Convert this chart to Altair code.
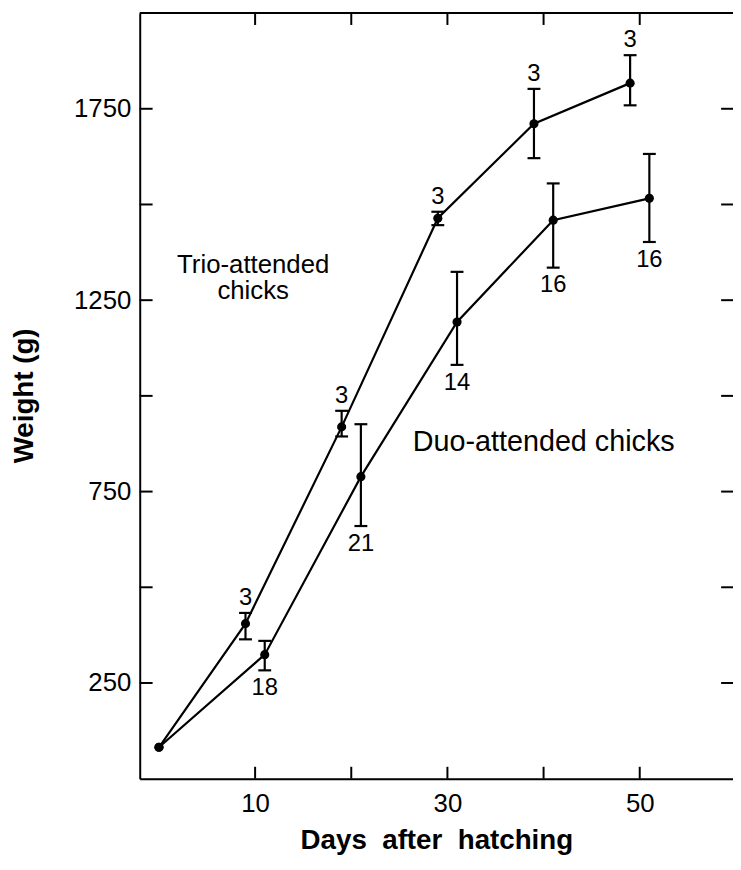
import altair as alt
import pandas as pd

# ---- data ----
trio_days = [0, 9, 19, 29, 39, 49]
trio_weight = [82, 405, 919, 1464, 1711, 1817]
trio_hi = [None, 433, 961, 1481, 1802, 1890]
trio_lo = [None, 364, 894, 1446, 1621, 1759]
trio_n = ["", "3", "3", "3", "3", "3"]

duo_days = [0, 11, 21, 31, 41, 51]
duo_weight = [82, 324, 789, 1193, 1459, 1516]
duo_hi = [None, 360, 926, 1324, 1555, 1632]
duo_lo = [None, 283, 660, 1081, 1335, 1402]
duo_n = ["", "18", "21", "14", "16", "16"]

x_ticks = [10, 20, 30, 40, 50]
x_labels = [10, 30, 50]
y_ticks = [250, 500, 750, 1000, 1250, 1500, 1750]
y_labels = [250, 750, 1250, 1750]

trio_label_text = ["Trio-attended\nchicks"]
trio_label_day = [9.8]
trio_label_weight = [1342]
duo_label_text = ["Duo-attended chicks"]
duo_label_day = [26.4]
duo_label_weight = [880]

# ---- tables ----
rows = []
for s, d, w, hi, lo, n in [("Trio", trio_days, trio_weight, trio_hi, trio_lo, trio_n),
                           ("Duo", duo_days, duo_weight, duo_hi, duo_lo, duo_n)]:
    for i in range(len(d)):
        rows.append({"series": s, "day": d[i], "weight": w[i], "hi": hi[i], "lo": lo[i], "n": n[i]})
df = pd.DataFrame(rows)
df_err = df.dropna(subset=["hi"])
df_trio_err = df_err[df_err.series == "Trio"]
df_duo_err = df_err[df_err.series == "Duo"]
df_xt = pd.DataFrame({"day": x_ticks})
df_yt = pd.DataFrame({"weight": y_ticks})
df_tl = pd.DataFrame({"t": trio_label_text, "day": trio_label_day, "weight": trio_label_weight})
df_dl = pd.DataFrame({"t": duo_label_text, "day": duo_label_day, "weight": duo_label_weight})

W, H = 599, 773
FONT = "Liberation Sans"
xs = alt.Scale(domain=[-2, 59.7], nice=False, zero=False)
ys = alt.Scale(domain=[0, 2000], nice=False, zero=False)

XT = "Days\u00a0\u00a0after\u00a0\u00a0hatching"
YT = "Weight (g)"
x_axis = alt.Axis(values=x_labels, ticks=False, tickSize=0, grid=False, domain=True, format="d",
                  domainColor="black", domainWidth=2, labelFontSize=26, labelColor="black",
                  labelPadding=12, labelFont=FONT,
                  titleFont=FONT, titleFontSize=28, titleFontWeight="bold", titleColor="black",
                  titleY=70, titleBaseline="alphabetic")
y_axis = alt.Axis(values=y_labels, ticks=False, tickSize=0, grid=False, domain=True, format="d",
                  domainColor="black", domainWidth=2, labelFontSize=26, labelColor="black",
                  labelPadding=9, labelFont=FONT,
                  titleFont=FONT, titleFontSize=28, titleFontWeight="bold", titleColor="black",
                  titleX=-108, titleY=386, titleBaseline="alphabetic", titleAngle=270)


def X(field):
    return alt.X(field, scale=xs, axis=x_axis, title=XT)


def Y(field):
    return alt.Y(field, scale=ys, axis=y_axis, title=YT)


lines = alt.Chart(df).mark_line(color="black", strokeWidth=2.2).encode(
    x=X("day:Q"), y=Y("weight:Q"), detail="series:N", order="day:Q")
pts = alt.Chart(df).mark_circle(color="black", size=85, opacity=1).encode(
    x=X("day:Q"), y=Y("weight:Q"))
bars = alt.Chart(df_err).mark_rule(color="black", strokeWidth=2.2).encode(
    x=X("day:Q"), y=Y("lo:Q"), y2="hi:Q")
cap_hi = alt.Chart(df_err).mark_rule(color="black", strokeWidth=2.2, xOffset=-6.5, x2Offset=6.5).encode(
    x=X("day:Q"), x2="day:Q", y=Y("hi:Q"))
cap_lo = alt.Chart(df_err).mark_rule(color="black", strokeWidth=2.2, xOffset=-6.5, x2Offset=6.5).encode(
    x=X("day:Q"), x2="day:Q", y=Y("lo:Q"))
n_trio = alt.Chart(df_trio_err).mark_text(font=FONT, fontSize=24, color="black", baseline="bottom",
                                          align="center", dy=-3).encode(
    x=X("day:Q"), y=Y("hi:Q"), text="n:N")
n_duo = alt.Chart(df_duo_err).mark_text(font=FONT, fontSize=24, color="black", baseline="top",
                                        align="center", dy=6).encode(
    x=X("day:Q"), y=Y("lo:Q"), text="n:N")
lab_trio = alt.Chart(df_tl).mark_text(font=FONT, fontSize=26, color="black", baseline="middle",
                                      align="center", lineBreak="\n", lineHeight=26).encode(
    x=X("day:Q"), y=Y("weight:Q"), text="t:N")
lab_duo = alt.Chart(df_dl).mark_text(font=FONT, fontSize=29, color="black", baseline="middle",
                                     align="left").encode(
    x=X("day:Q"), y=Y("weight:Q"), text="t:N")

# inward ticks on all four sides and the top frame line
tk_left = alt.Chart(df_yt).mark_rule(color="black", strokeWidth=2).encode(
    y=Y("weight:Q"), x=alt.value(0), x2=alt.value(13))
tk_right = alt.Chart(df_yt).mark_rule(color="black", strokeWidth=2).encode(
    y=Y("weight:Q"), x=alt.value(W - 12), x2=alt.value(W))
tk_bottom = alt.Chart(df_xt).mark_rule(color="black", strokeWidth=2).encode(
    x=X("day:Q"), y=alt.value(H - 12), y2=alt.value(H))
tk_top = alt.Chart(df_xt).mark_rule(color="black", strokeWidth=2).encode(
    x=X("day:Q"), y=alt.value(0), y2=alt.value(12))
top_line = alt.Chart(df_xt.head(1)).mark_rule(color="black", strokeWidth=2).encode(
    x=alt.value(0), x2=alt.value(W), y=alt.value(0))

chart = alt.layer(
    lines, bars, cap_hi, cap_lo, pts, n_trio, n_duo, lab_trio, lab_duo,
    tk_left, tk_right, tk_bottom, tk_top, top_line,
).properties(
    width=W, height=H,
    padding={"left": 133, "top": 1, "right": 0, "bottom": 80},
    autosize=alt.AutoSizeParams(type="none"),
).configure_view(stroke=None).configure(background="white")

chart.save("out.html", embed_options={"renderer": "svg", "actions": False})
